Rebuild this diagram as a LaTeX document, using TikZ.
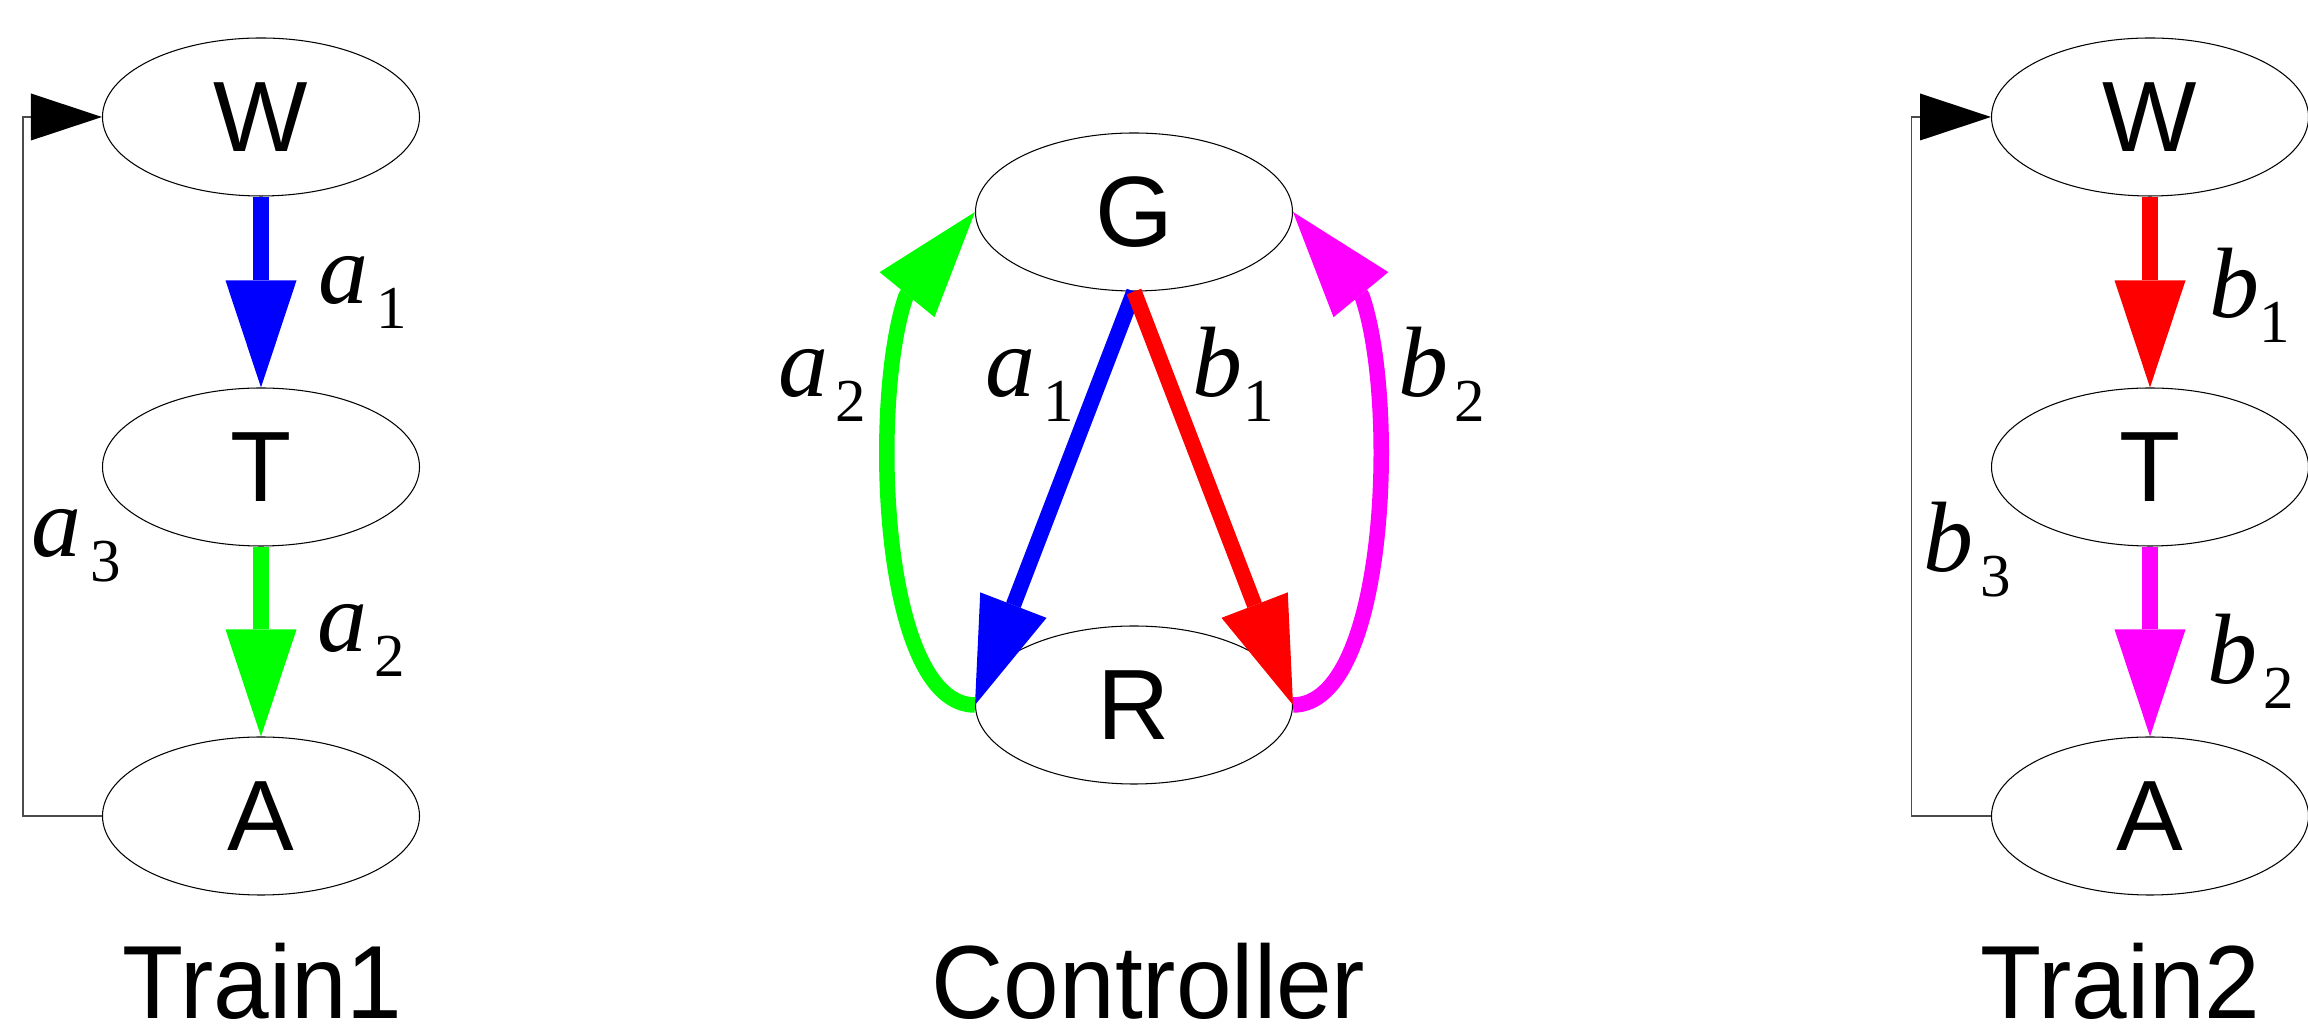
\documentclass[tikz,border=0pt]{standalone}
\usepackage{fontspec}
\newfontfamily\sansf{Liberation Sans}
\newfontfamily\seriff{Liberation Serif}
\usetikzlibrary{arrows.meta,shapes.geometric}
\definecolor{cblue}{RGB}{0,0,255}
\definecolor{cgreen}{RGB}{0,255,0}
\definecolor{cred}{RGB}{255,0,0}
\definecolor{cmag}{RGB}{255,0,255}
\newcommand{\lbl}[3]{{\seriff\fontsize{10mm}{10mm}\selectfont\itshape #1}\kern#3\raisebox{-2.5mm}{\seriff\fontsize{6.1mm}{6.1mm}\selectfont #2}}
\tikzset{
 st/.style={ellipse, draw=black, line width=0.3pt, fill=white, minimum width=31.7mm, minimum height=15.8mm, inner sep=0pt, font=\sansf\fontsize{10mm}{10mm}\selectfont},
 fat/.style={line width=1.55mm, line join=round, -{Triangle[length=10.7mm,width=7.1mm,line width=0pt]}},
 fb/.style={draw=black!70, line width=0.35pt, -{Triangle[length=7.1mm,width=4.7mm,line width=0pt,color=black,fill=black]}},
 lab/.style={anchor=base west, inner sep=0pt},
 ttl/.style={anchor=base west, inner sep=0pt, font=\sansf\fontsize{10mm}{10mm}\selectfont},
}
\begin{document}
\begin{tikzpicture}[x=0.1mm,y=-0.1mm]
\useasboundingbox (0,0) rectangle (2308,1028);
% Train1
\node[st] (w1) at (261,117) {W};
\node[st] (t1) at (261,467) {T};
\node[st] (a1) at (261,816) {A};
\draw[fat,cblue] (w1.south) -- (t1.north);
\draw[fat,cgreen] (t1.south) -- (a1.north);
\draw[fb] (a1.west) -- ++(-79,0) |- (w1.west);
\node[lab] (la1) at (318,304) {\lbl{a}{1}{0.8mm}};
\node[lab] (la2) at (317,652) {\lbl{a}{2}{0.7mm}};
\node[lab] (la3) at (31,557) {\lbl{a}{3}{0.85mm}};
\node[ttl] (n1) at (122,1018) {\scalebox{1}[1.04]{Train1}};
% Controller
\node[st] (g) at (1134,212) {G};
\node[st] (r) at (1134,705) {R};
\draw[fat,cblue] (g.south) -- (r.west);
\draw[fat,cred] (g.south) -- (r.east);
\draw[fat,cgreen] (r.west) .. controls (880,705) and (870,400) .. (906,296) -- (g.west);
\draw[fat,cmag] (r.east) .. controls (1388,705) and (1398,400) .. (1362,296) -- (g.east);
\node[lab] (ca2) at (778,397) {\lbl{a}{2}{0.7mm}};
\node[lab] (ca1) at (985,397) {\lbl{a}{1}{0.8mm}};
\node[lab] (cb1) at (1192,397) {\lbl{b}{1}{0.1mm}};
\node[lab] (cb2) at (1398,397) {\lbl{b}{2}{0.6mm}};
\node[ttl] (n2) at (931,1018) {\scalebox{1}[1.04]{Controller}};
% Train2
\node[st] (w2) at (2150,117) {W};
\node[st] (t2) at (2150,467) {T};
\node[st] (a2) at (2150,816) {A};
\draw[fat,cred] (w2.south) -- (t2.north);
\draw[fat,cmag] (t2.south) -- (a2.north);
\draw[fb] (a2.west) -- ++(-79.5,0) |- (w2.west);
\node[lab] (lb1) at (2209,318) {\lbl{b}{1}{0mm}};
\node[lab] (lb3) at (1923,572) {\lbl{b}{3}{0.65mm}};
\node[lab] (lb2) at (2207,684) {\lbl{b}{2}{0.6mm}};
\node[ttl] (n3) at (1980,1018) {\scalebox{1}[1.04]{Train2}};
\end{tikzpicture}
\end{document}
